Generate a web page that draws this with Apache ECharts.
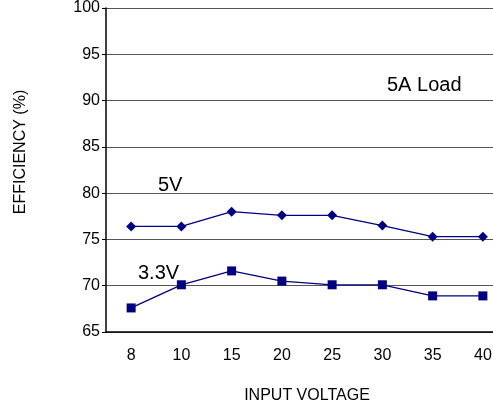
<!DOCTYPE html>
<html>
<head>
<meta charset="utf-8">
<script src="https://cdn.jsdelivr.net/npm/echarts@6/dist/echarts.min.js"></script>
<style>
  html, body { margin: 0; padding: 0; background: #fff; }
  #chart { width: 493px; height: 408px; }
</style>
</head>
<body>
<div id="chart"></div>
<script>
// input voltage categories
const voltages = ["8", "10", "15", "20", "25", "30", "35", "40"];
// efficiency (%) at 5A load
const eff5V = [76.4, 76.4, 78.0, 77.6, 77.6, 76.5, 75.3, 75.3];
const eff33V = [67.6, 70.1, 71.6, 70.5, 70.1, 70.1, 68.9, 68.9];

const chart = echarts.init(document.getElementById("chart"));
const font = "Liberation Sans, Arial, sans-serif";

chart.setOption({
  animation: false,
  grid: { left: 106, width: 402, top: 8, bottom: 76, outerBoundsMode: "none" },
  xAxis: {
    type: "category",
    data: voltages,
    boundaryGap: true,
    name: "INPUT VOLTAGE",
    nameLocation: "middle",
    nameGap: 56,
    nameTextStyle: { color: "#000", fontFamily: font, fontSize: 16 },
    axisLine: { lineStyle: { color: "#000", width: 1.5 } },
    axisTick: { show: false },
    axisLabel: { color: "#000", fontFamily: font, fontSize: 16, margin: 16 },
    splitLine: { show: false }
  },
  yAxis: {
    type: "value",
    min: 65,
    max: 100,
    interval: 5,
    axisLine: { show: true, lineStyle: { color: "#000", width: 1.5 } },
    axisTick: { show: true, length: 4, lineStyle: { color: "#000" } },
    axisLabel: { color: "#000", fontFamily: font, fontSize: 16, margin: 6 },
    splitLine: { show: true, lineStyle: { color: "#555", width: 1.2 } }
  },
  graphic: [
    {
      type: "text",
      x: 21, y: 152,
      rotation: Math.PI / 2,
      style: { text: "EFFICIENCY (%)", fill: "#000", font: "16px " + font, align: "center", verticalAlign: "middle" }
    },
    { type: "text", x: 387, y: 85, style: { text: "5A Load", fill: "#000", font: "20px " + font, verticalAlign: "middle" } },
    { type: "text", x: 158, y: 185, style: { text: "5V", fill: "#000", font: "20px " + font, verticalAlign: "middle" } },
    { type: "text", x: 138, y: 273, style: { text: "3.3V", fill: "#000", font: "20px " + font, verticalAlign: "middle" } }
  ],
  series: [
    {
      name: "5V",
      type: "line",
      data: eff5V,
      symbol: "diamond",
      symbolSize: 10,
      itemStyle: { color: "#000080" },
      lineStyle: { color: "#000080", width: 1.3 }
    },
    {
      name: "3.3V",
      type: "line",
      data: eff33V,
      symbol: "rect",
      symbolSize: 9,
      itemStyle: { color: "#000080" },
      lineStyle: { color: "#000080", width: 1.3 }
    }
  ]
});
</script>
</body>
</html>
